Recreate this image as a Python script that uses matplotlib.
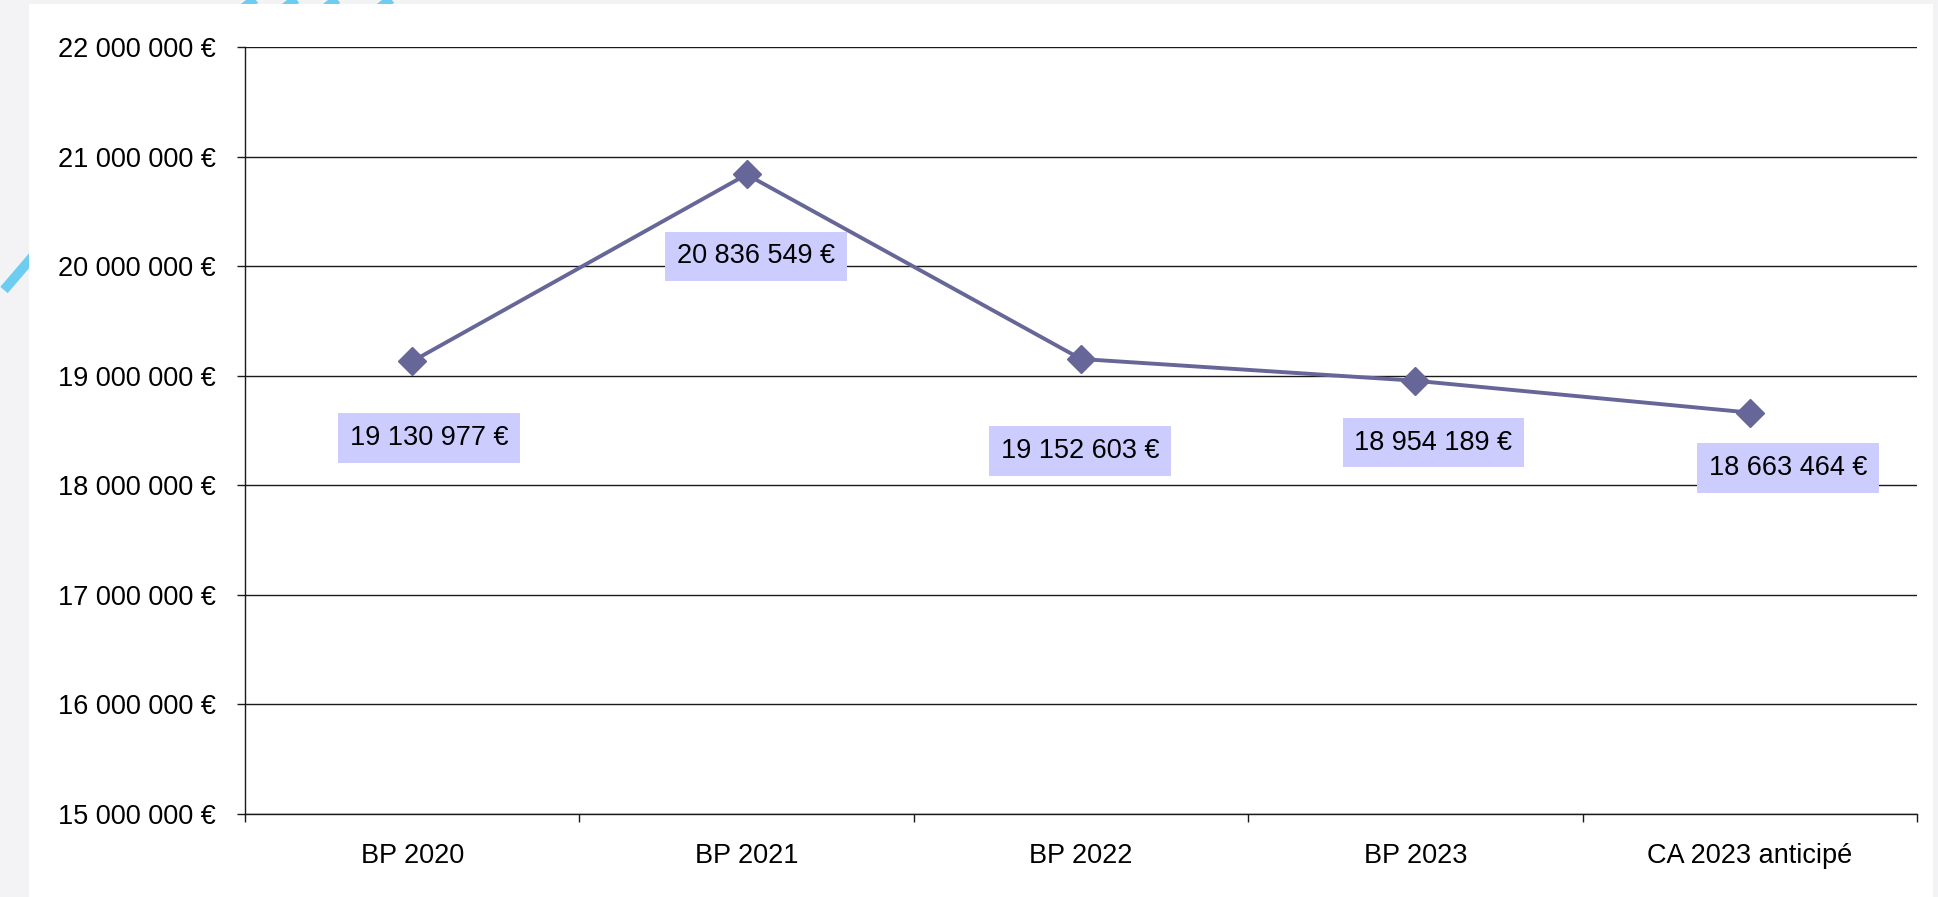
import matplotlib
matplotlib.use("Agg")
import matplotlib.pyplot as plt
from matplotlib.patches import Rectangle
from matplotlib.lines import Line2D
from matplotlib.ticker import FuncFormatter, FixedLocator, NullFormatter

plt.rcParams.update({
    "font.family": ["Liberation Sans", "DejaVu Sans"],
    "font.size": 19.5,
})

# data
categories = ["BP 2020", "BP 2021", "BP 2022", "BP 2023", "CA 2023 anticipé"]
values = [19130977, 20836549, 19152603, 18954189, 18663464]

# label offsets from each point (points, x right / y up)
label_offsets = [(12, -55), (6.5, -59), (-0.5, -66), (13, -44.5), (27.5, -40)]

W, H = 1938, 897
fig = plt.figure(figsize=(W / 100, H / 100), dpi=100, facecolor="#f3f3f5")


def px(x, y):
    return x / W, 1 - y / H


# decorative blue strokes, mostly hidden behind the white panel
stroke_kw = dict(color="#6dcdf0", lw=7, solid_capstyle="butt", zorder=-3)
for x0 in [236, 277, 318, 372]:
    (xa, ya), (xb, yb) = px(x0, 14), px(x0 + 28, -8)
    fig.add_artist(Line2D([xa, xb], [ya, yb], transform=fig.transFigure, **stroke_kw))
(xa, ya), (xb, yb) = px(4, 290), px(40, 248)
fig.add_artist(Line2D([xa, xb], [ya, yb], transform=fig.transFigure, **stroke_kw))

# white slide panel
x0, y0 = px(29, 897)
fig.add_artist(Rectangle((x0, y0), (1933 - 29) / W, (897 - 4) / H,
                         transform=fig.transFigure, facecolor="white",
                         edgecolor="none", zorder=-2))

ax = fig.add_axes([245 / W, (897 - 814) / H, 1672 / W, 767 / H])
ax.set_facecolor("white")

x = list(range(len(categories)))
ax.plot(x, values, color="#666699", lw=2.8, marker="D", ms=14,
        markerfacecolor="#666699", markeredgecolor="#666699", zorder=3)

for xi, v, (dx, dy) in zip(x, values, label_offsets):
    txt = f"{v:,.0f} €".replace(",", " ")
    ax.annotate(txt, (xi, v), xytext=(dx, dy), textcoords="offset points",
                ha="center", va="center", fontsize=19.5, color="black",
                bbox=dict(boxstyle="square,pad=0.44", facecolor="#ccccff",
                          edgecolor="none"), zorder=4)

ax.set_xlim(-0.5, len(categories) - 0.5)
ax.set_ylim(15_000_000, 22_000_000)
ax.set_yticks(range(15_000_000, 22_000_001, 1_000_000))
ax.yaxis.set_major_formatter(FuncFormatter(lambda v, p: f"{v:,.0f} €".replace(",", " ")))
ax.grid(axis="y", color="#1a1a1a", lw=1.0)
ax.set_axisbelow(True)

ax.set_xticks(x)
ax.set_xticklabels(categories)
ax.xaxis.set_minor_locator(FixedLocator([i - 0.5 for i in range(len(categories) + 1)]))
ax.xaxis.set_minor_formatter(NullFormatter())
ax.tick_params(axis="x", which="major", length=0, pad=21)
ax.tick_params(axis="x", which="minor", length=6, width=1.0, color="#1a1a1a")
ax.tick_params(axis="y", length=6, width=1.0, color="#1a1a1a", pad=15)

for s in ["top", "right"]:
    ax.spines[s].set_visible(False)
for s in ["left", "bottom"]:
    ax.spines[s].set_color("#1a1a1a")
    ax.spines[s].set_linewidth(1.0)

fig.savefig("out.png", dpi=100, facecolor=fig.get_facecolor())
